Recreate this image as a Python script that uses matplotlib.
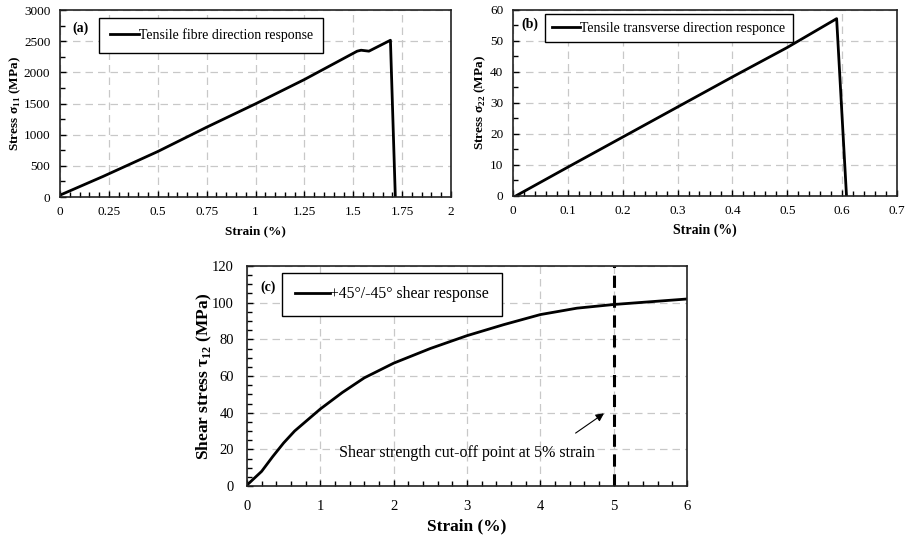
import numpy as np
import matplotlib.pyplot as plt
from matplotlib.ticker import MultipleLocator, FormatStrFormatter

plt.rcParams["font.family"] = ["Liberation Serif", "DejaVu Serif"]
plt.rcParams["mathtext.fontset"] = "custom"
plt.rcParams["mathtext.rm"] = "Liberation Serif"
plt.rcParams["mathtext.bf"] = "Liberation Serif:bold"

# (a) tensile fibre direction
fibre_strain = [0, 0.22, 0.5, 0.75, 1.0, 1.25, 1.52, 1.54, 1.58, 1.69, 1.715]
fibre_stress = [30, 330, 730, 1120, 1495, 1885, 2340, 2355, 2340, 2515, 0]

# (b) tensile transverse direction
trans_strain = [0.005, 0.1, 0.2, 0.3, 0.4, 0.5, 0.59, 0.608]
trans_stress = [0, 9.3, 19.0, 28.7, 38.4, 47.9, 57.2, 0]

# (c) +45/-45 shear
shear_strain = [0, 0.2, 0.35, 0.5, 0.65, 1.0, 1.3, 1.6, 2.0, 2.5, 3.0, 3.5, 4.0, 4.5, 5.0, 6.0]
shear_stress = [0.5, 8, 16, 23.5, 30, 42, 51, 59, 67, 75, 82, 88, 93.5, 97, 99, 102]
cutoff_strain = 5


def style_axes(ax, xmaj, xmin, ymaj, ymin, fs, xpad, ypad):
    ax.xaxis.set_major_locator(MultipleLocator(xmaj))
    ax.xaxis.set_minor_locator(MultipleLocator(xmin))
    ax.yaxis.set_major_locator(MultipleLocator(ymaj))
    ax.yaxis.set_minor_locator(MultipleLocator(ymin))
    ax.xaxis.set_major_formatter(FormatStrFormatter("%g"))
    ax.yaxis.set_major_formatter(FormatStrFormatter("%g"))
    ax.tick_params(which="both", direction="in", top=False, right=False, labelsize=fs)
    ax.tick_params(which="major", length=4, width=1)
    ax.tick_params(which="minor", length=3.5, width=1)
    ax.tick_params(axis="x", which="major", pad=xpad)
    ax.tick_params(axis="y", which="major", pad=ypad)
    ax.grid(True, which="major", linestyle=(0, (6, 4)), color="#c8c8c8", linewidth=0.9)
    ax.set_axisbelow(True)
    for s in ax.spines.values():
        s.set_linewidth(1.2)
        s.set_color("#222222")


def add_legend(ax, x, y, fs, hl, pad):
    leg = ax.legend(loc="upper left", bbox_to_anchor=(x, y), borderaxespad=0,
                    fancybox=False, edgecolor="black", framealpha=1,
                    fontsize=fs, handlelength=hl, handletextpad=0.0,
                    borderpad=pad)
    leg.get_frame().set_linewidth(1.0)


fig = plt.figure(figsize=(9.11, 5.39), dpi=100)

# panel (a)
ax1 = fig.add_axes([0.0659, 0.6345, 0.4292, 0.3469])
ax1.plot(fibre_strain, fibre_stress, color="black", lw=2,
         label="Tensile fibre direction response")
ax1.set_xlim(0, 2)
ax1.set_ylim(0, 3000)
style_axes(ax1, 0.25, 0.05, 500, 250, 9.5, 6.5, 7)
ax1.set_xlabel("Strain (%)", fontsize=9.5, fontweight="bold", labelpad=5)
ax1.set_ylabel(r"Stress σ$_{\mathbf{11}}$ (MPa)", fontsize=9.5, fontweight="bold", labelpad=0.5)
add_legend(ax1, 0.10, 0.957, 10, 2.1, 0.75)
ax1.text(0.032, 0.905, "(a)", transform=ax1.transAxes, fontsize=10, fontweight="bold",
         va="center")

# panel (b)
ax2 = fig.add_axes([0.5631, 0.6364, 0.4215, 0.3451])
ax2.plot(trans_strain, trans_stress, color="black", lw=2,
         label="Tensile transverse direction responce")
ax2.set_xlim(0, 0.7)
ax2.set_ylim(0, 60)
style_axes(ax2, 0.1, 0.02, 10, 5, 9.5, 6.5, 7)
ax2.set_xlabel("Strain (%)", fontsize=10, fontweight="bold", labelpad=5)
ax2.set_ylabel(r"Stress σ$_{\mathbf{22}}$ (MPa)", fontsize=9.5, fontweight="bold", labelpad=1.5)
add_legend(ax2, 0.083, 0.978, 10, 2.0, 0.55)
ax2.text(0.022, 0.925, "(b)", transform=ax2.transAxes, fontsize=10, fontweight="bold",
         va="center")

# panel (c)
ax3 = fig.add_axes([0.2711, 0.0983, 0.4830, 0.4082])
ax3.plot(shear_strain, shear_stress, color="black", lw=2,
         label="+45°/-45° shear response")
ax3.axvline(cutoff_strain, color="black", lw=2.2, linestyle=(0, (4, 2.5)))
ax3.set_xlim(0, 6)
ax3.set_ylim(0, 120)
style_axes(ax3, 1, 0.2, 20, 5, 10.5, 10, 9.5)
ax3.set_xlabel("Strain (%)", fontsize=12.5, fontweight="bold", labelpad=4)
ax3.set_ylabel(r"Shear stress τ$_{\mathbf{12}}$ (MPa)", fontsize=12.5, fontweight="bold",
               labelpad=-1.5)
add_legend(ax3, 0.0795, 0.968, 11.3, 2.2, 0.85)
ax3.text(0.03, 0.905, "(c)", transform=ax3.transAxes, fontsize=10, fontweight="bold",
         va="center")
ax3.text(3.0, 18, "Shear strength cut-off point at 5% strain", fontsize=11.5,
         ha="center", va="center")
ax3.annotate("", xy=(4.9, 40.5), xytext=(4.45, 28),
             arrowprops=dict(arrowstyle="-|>", color="black", lw=0.8,
                             mutation_scale=12))

fig.savefig("out.png", dpi=100)
